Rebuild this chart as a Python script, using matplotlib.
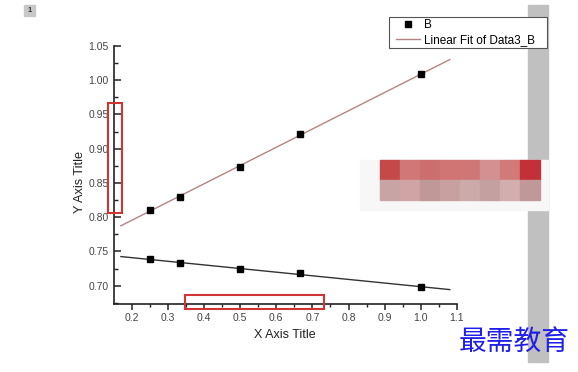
import numpy as np
import matplotlib
matplotlib.use("Agg")
import matplotlib.pyplot as plt
from matplotlib.patches import Rectangle
from matplotlib.ticker import MultipleLocator, FormatStrFormatter

# ---- data ----
x_vals = [0.25, 0.333, 0.5, 0.667, 1.0]
y_upper = [0.811, 0.829, 0.874, 0.921, 1.009]
y_lower = [0.739, 0.733, 0.724, 0.718, 0.698]
fit_range = [0.17, 1.08]
series_label = "B"
fit_label = "Linear Fit of Data3_B"
x_title = "X Axis Title"
y_title = "Y Axis Title"
watermark = "最需教育"

W, H = 578, 372
fig = plt.figure(figsize=(W / 100, H / 100), dpi=100)
plt.rcParams['font.family'] = ['Liberation Sans', 'DejaVu Sans']

def fx(px):
    return px / W

def fy(py):
    return 1 - py / H

ax = fig.add_axes([fx(114), fy(303.5), fx(457) - fx(114), fy(46) - fy(303.5)])
ax.set_xlim(0.151, 1.1)
ax.set_ylim(0.674, 1.05)

for s in ['top', 'right']:
    ax.spines[s].set_visible(False)
for s in ['left', 'bottom']:
    ax.spines[s].set_linewidth(1.2)
    ax.spines[s].set_color('#222222')

ax.xaxis.set_major_locator(MultipleLocator(0.1))
ax.xaxis.set_minor_locator(MultipleLocator(0.05))
ax.yaxis.set_major_locator(MultipleLocator(0.05))
ax.yaxis.set_minor_locator(MultipleLocator(0.025))
ax.xaxis.set_major_formatter(FormatStrFormatter('%.1f'))
ax.yaxis.set_major_formatter(FormatStrFormatter('%.2f'))
ax.tick_params(axis='x', which='major', direction='out', length=4, width=1.1, labelsize=7.5, labelcolor='#444444', color='#222222', pad=3)
ax.tick_params(axis='x', which='minor', direction='out', length=2.5, width=1.0, color='#222222')
ax.tick_params(axis='y', which='major', direction='in', length=5, width=1.1, labelsize=7.5, labelcolor='#444444', color='#222222', pad=4)
ax.tick_params(axis='y', which='minor', direction='in', length=3, width=1.0, color='#222222')

# fits
fx_arr = np.array(fit_range)
cu = np.polyfit(x_vals, y_upper, 1)
cl = np.polyfit(x_vals, y_lower, 1)
ax.plot(fx_arr, np.polyval(cu, fx_arr), color='#b48484', lw=1.0, label=fit_label, zorder=2)
ax.plot(fx_arr, np.polyval(cl, fx_arr), color='#333333', lw=1.0, zorder=2)
ax.plot(x_vals, y_upper, 's', color='black', ms=4, label=series_label, zorder=3)
ax.plot(x_vals, y_lower, 's', color='black', ms=4, zorder=3)

ax.set_xlabel(x_title, fontsize=9, color='#222222')
ax.set_ylabel(y_title, fontsize=9.2, color='#222222')
ax.xaxis.set_label_coords((285 - 114) / (457 - 114), -(329 - 303.5) / (303.5 - 46))
ax.yaxis.set_label_coords(-(114 - 86) / (457 - 114), (303.5 - 181.5) / (303.5 - 46))

# gray side bar
fig.patches.append(Rectangle((fx(528), fy(362)), fx(548) - fx(528), fy(5) - fy(362),
                             transform=fig.transFigure, color='#c0c0c0', zorder=0))

# legend (frame drawn separately to match the box size)
fig.patches.append(Rectangle((fx(389), fy(48)), fx(547) - fx(389), fy(17) - fy(48),
                             transform=fig.transFigure, facecolor='white', edgecolor='#555555',
                             lw=0.8, zorder=4))
handles, labels = ax.get_legend_handles_labels()
order = [labels.index(series_label), labels.index(fit_label)]
leg = fig.legend([handles[i] for i in order], [labels[i] for i in order],
                 loc='center left', bbox_to_anchor=(fx(396), fy(32.5)),
                 fontsize=8.5, frameon=False, borderpad=0.0,
                 handlelength=2.0, handletextpad=0.35, labelspacing=0.2,
                 borderaxespad=0)
leg.set_zorder(5)

# pixelated blob
row1 = ['#c44a4a', '#d07878', '#cc6e6e', '#d07474', '#d07676', '#d49090', '#d07a7a', '#c43038']
row2 = ['#c8a4a4', '#d0a4a4', '#c09898', '#c8a0a0', '#ccaaaa', '#c4a0a0', '#d4aeae', '#c09898']
fig.patches.append(Rectangle((fx(360), fy(210)), fx(548) - fx(360), fy(160) - fy(210),
                             transform=fig.transFigure, color='#f7f7f7', zorder=1))
for i, (c1, c2) in enumerate(zip(row1, row2)):
    x0 = 380 + 20 * i
    fig.patches.append(Rectangle((fx(x0), fy(180)), fx(20), fy(160) - fy(180),
                                 transform=fig.transFigure, color=c1, zorder=2))
    fig.patches.append(Rectangle((fx(x0), fy(200)), fx(20), fy(180) - fy(200),
                                 transform=fig.transFigure, color=c2, zorder=2))

# red highlight boxes
for (x0, y0, x1, y1) in [(108, 103, 122, 213), (185, 295, 324, 309)]:
    fig.patches.append(Rectangle((fx(x0), fy(y1)), fx(x1) - fx(x0), fy(y0) - fy(y1),
                                 transform=fig.transFigure, fill=False, edgecolor='#d03434',
                                 lw=1.5, zorder=6))

# page number box
fig.patches.append(Rectangle((fx(24), fy(16)), fx(11), fy(5) - fy(16),
                             transform=fig.transFigure, color='#c8c8c8', zorder=1))
fig.text(fx(29.5), fy(10.5), '1', fontsize=5.5, ha='center', va='center', color='#333333', weight='bold')

# watermark
fig.text(fx(514), fy(342), watermark, fontsize=20, ha='center', va='center', color='#1f1fe6',
         family=['Noto Sans CJK SC', 'DejaVu Sans'], zorder=7)

fig.savefig('out.png', dpi=100)
